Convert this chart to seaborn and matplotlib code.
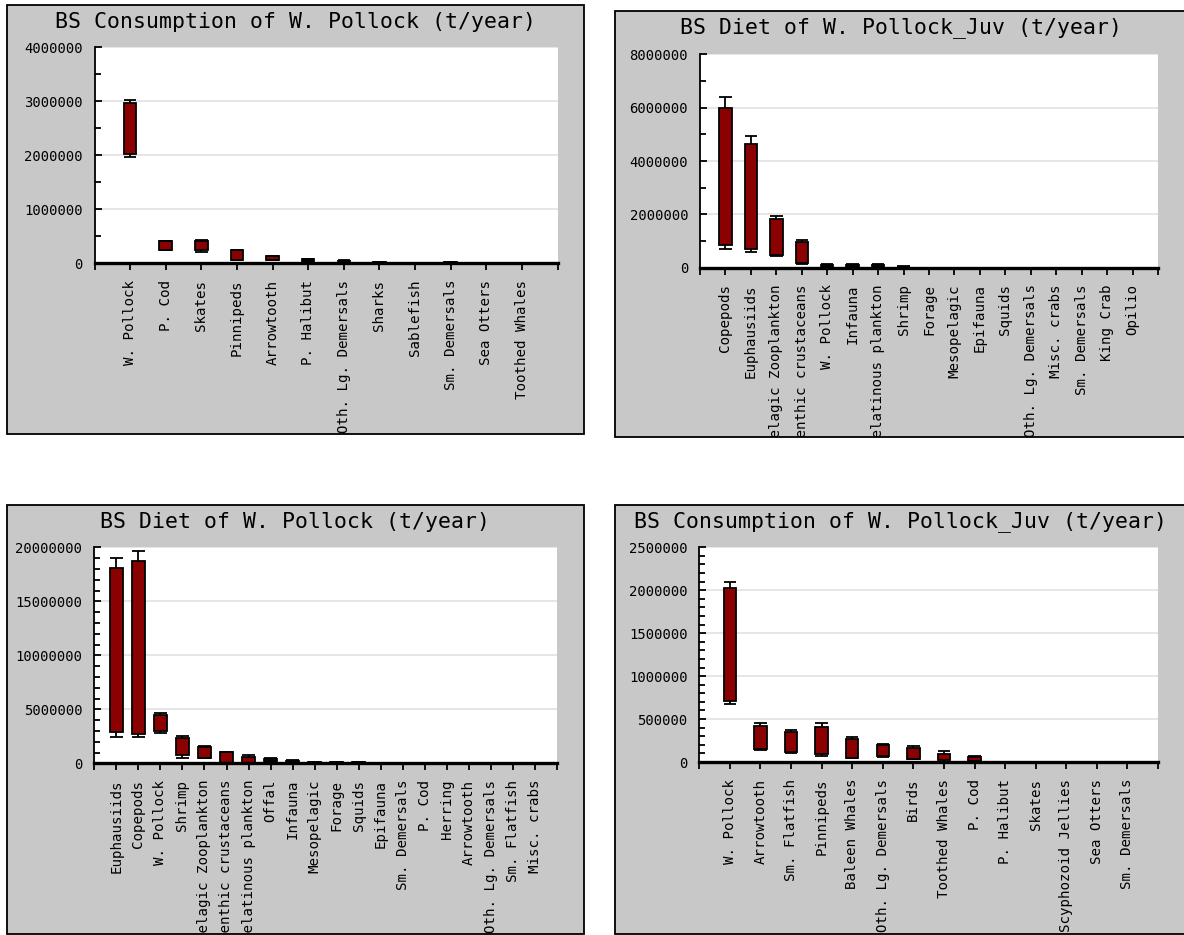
import matplotlib
matplotlib.use("Agg")
import matplotlib.pyplot as plt
import seaborn as sns
import numpy as np
from matplotlib.patches import Rectangle
from matplotlib.transforms import Bbox, TransformedBbox
from matplotlib.ticker import MultipleLocator, FixedLocator, NullFormatter

plt.rcParams['font.family'] = ['DejaVu Sans Mono']

# ---------------- BS Consumption of W. Pollock ----------------
cons_adult_title = "BS Consumption of W. Pollock (t/year)"
cons_adult_cats = ["W. Pollock", "P. Cod", "Skates", "Pinnipeds", "Arrowtooth",
                   "P. Halibut", "Oth. Lg. Demersals", "Sharks", "Sablefish",
                   "Sm. Demersals", "Sea Otters", "Toothed Whales"]
cons_adult_lo = [1970000, 250000, 200000, 70000, 60000, 35000, 5000, 3000, 0, 3000, 0, 0]
cons_adult_q1 = [2020000, 250000, 240000, 70000, 60000, 45000, 10000, 6000, 0, 6000, 0, 0]
cons_adult_q3 = [2970000, 405000, 410000, 245000, 140000, 75000, 50000, 20000, 0, 20000, 0, 0]
cons_adult_hi = [3030000, 405000, 440000, 245000, 140000, 85000, 58000, 28000, 0, 28000, 0, 0]

# ---------------- BS Diet of W. Pollock_Juv ----------------
diet_juv_title = "BS Diet of W. Pollock_Juv (t/year)"
diet_juv_cats = ["Copepods", "Euphausiids", "Pelagic Zooplankton", "Benthic crustaceans",
                 "W. Pollock", "Infauna", "Gelatinous plankton", "Shrimp", "Forage",
                 "Mesopelagic", "Epifauna", "Squids", "Oth. Lg. Demersals",
                 "Misc. crabs", "Sm. Demersals", "King Crab", "Opilio"]
diet_juv_lo = [700000, 590000, 420000, 150000, 10000, 10000, 10000, 5000, 0, 0, 0, 0, 0, 0, 0, 0, 0]
diet_juv_q1 = [850000, 700000, 470000, 180000, 30000, 25000, 25000, 10000, 0, 0, 0, 0, 0, 0, 0, 0, 0]
diet_juv_q3 = [6000000, 4650000, 1820000, 950000, 90000, 100000, 100000, 40000, 0, 0, 0, 0, 0, 0, 0, 0, 0]
diet_juv_hi = [6400000, 4920000, 1920000, 1030000, 120000, 120000, 120000, 50000, 0, 0, 0, 0, 0, 0, 0, 0, 0]

# ---------------- BS Diet of W. Pollock ----------------
diet_adult_title = "BS Diet of W. Pollock (t/year)"
diet_adult_cats = ["Euphausiids", "Copepods", "W. Pollock", "Shrimp", "Pelagic Zooplankton",
                   "Benthic crustaceans", "Gelatinous plankton", "Offal", "Infauna",
                   "Mesopelagic", "Forage", "Squids", "Epifauna", "Sm. Demersals", "P. Cod",
                   "Herring", "Arrowtooth", "Oth. Lg. Demersals", "Sm. Flatfish", "Misc. crabs"]
diet_adult_lo = [2400000, 2400000, 2850000, 500000, 450000, 0, 0, 200000, 10000, 10000, 10000, 10000,
                 0, 0, 0, 0, 0, 0, 0, 0]
diet_adult_q1 = [2900000, 2750000, 2950000, 750000, 500000, 70000, 50000, 250000, 30000, 20000, 20000, 20000,
                 0, 0, 0, 0, 0, 0, 0, 0]
diet_adult_q3 = [18100000, 18700000, 4450000, 2350000, 1550000, 1050000, 600000, 400000, 220000, 120000,
                 120000, 120000, 0, 0, 0, 0, 0, 0, 0, 0]
diet_adult_hi = [19000000, 19700000, 4700000, 2550000, 1600000, 1080000, 800000, 460000, 280000, 150000,
                 150000, 150000, 0, 0, 0, 0, 0, 0, 0, 0]

# ---------------- BS Consumption of W. Pollock_Juv ----------------
cons_juv_title = "BS Consumption of W. Pollock_Juv (t/year)"
cons_juv_cats = ["W. Pollock", "Arrowtooth", "Sm. Flatfish", "Pinnipeds", "Baleen Whales",
                 "Oth. Lg. Demersals", "Birds", "Toothed Whales", "P. Cod", "P. Halibut",
                 "Skates", "Scyphozoid Jellies", "Sea Otters", "Sm. Demersals"]
cons_juv_lo = [680000, 140000, 110000, 70000, 45000, 60000, 30000, 0, 0, 0, 0, 0, 0, 0]
cons_juv_q1 = [710000, 150000, 120000, 90000, 50000, 65000, 35000, 20000, 15000, 0, 0, 0, 0, 0]
cons_juv_q3 = [2030000, 420000, 345000, 410000, 265000, 200000, 165000, 95000, 60000, 0, 0, 0, 0, 0]
cons_juv_hi = [2100000, 450000, 370000, 450000, 290000, 210000, 190000, 125000, 75000, 0, 0, 0, 0, 0]

W, H = 1184, 935
BOX_PX = 12.5
PANEL_GREY = "#C8C8C8"
BOX_RED = "#8B0000"
GRID_GREY = "#E2E2E2"

fig = plt.figure(figsize=(W / 100, H / 100), dpi=100)
fig.patch.set_facecolor("white")


def fig_rect(x0, y0, x1, y1):
    """Pixel box (top-left origin) -> figure fraction [l, b, w, h]."""
    return [x0 / W, 1 - y1 / H, (x1 - x0) / W, (y1 - y0) / H]


def draw_panel(panel_px, axes_px, title, title_y, cats, lo, q1, q3, hi,
               ymax, major, minor):
    px0, py0, px1, py1 = panel_px
    l, b, w, h = fig_rect(*panel_px)
    panel = Rectangle((l, b), w, h, transform=fig.transFigure,
                      facecolor=PANEL_GREY, edgecolor="black", lw=1.3, zorder=-5)
    fig.add_artist(panel)
    clip = TransformedBbox(Bbox.from_bounds(l, b, w, h), fig.transFigure)

    fig.text((px0 + px1) / 2 / W, 1 - title_y / H, title, ha="center", va="center",
             fontsize=15.5, color="black")

    ax = fig.add_axes(fig_rect(*axes_px))
    ax.set_facecolor("white")

    n = len(cats)
    spacing_px = (axes_px[2] - axes_px[0]) / (n + 1)
    frac = BOX_PX / spacing_px

    q1a = np.asarray(q1, float)
    q3a = np.asarray(q3, float)
    lo_a = np.asarray(lo, float)
    hi_a = np.asarray(hi, float)

    # boxes: floating bars from the lower to the upper quartile
    sns.barplot(x=cats, y=q3a - q1a, bottom=q1a, order=cats, errorbar=None,
                width=frac, color=BOX_RED, edgecolor="black", linewidth=1.3,
                saturation=1, ax=ax, zorder=2)

    # whiskers with caps
    xs = np.arange(n)
    half = frac / 2
    ax.vlines(xs, q3a, hi_a, color="black", lw=1.3, zorder=3)
    ax.vlines(xs, lo_a, q1a, color="black", lw=1.3, zorder=3)
    ax.hlines(hi_a, xs - half, xs + half, color="black", lw=1.3, zorder=3)
    ax.hlines(lo_a, xs - half, xs + half, color="black", lw=1.3, zorder=3)

    ax.set_xlim(-1, n)
    ax.set_ylim(0, ymax)
    ax.set_xlabel("")
    ax.set_ylabel("")

    # y axis
    ax.yaxis.set_major_locator(MultipleLocator(major))
    ax.yaxis.set_minor_locator(MultipleLocator(minor))
    ax.yaxis.set_major_formatter(plt.FuncFormatter(lambda v, p: f"{int(round(v))}"))
    ax.tick_params(axis="y", which="major", direction="in", length=5, width=1.3,
                   labelsize=10, pad=8.5, colors="black")
    ax.tick_params(axis="y", which="minor", direction="in", length=4, width=1.3)
    ax.yaxis.grid(True, which="major", color=GRID_GREY, lw=1.2)
    ax.xaxis.grid(False)
    ax.set_axisbelow(True)

    # x axis: category ticks plus end ticks
    ax.xaxis.set_major_locator(FixedLocator(xs))
    ax.set_xticklabels(cats, rotation=90, fontsize=10.2, va="top", ha="center")
    ax.xaxis.set_minor_locator(FixedLocator([-1, n]))
    ax.xaxis.set_minor_formatter(NullFormatter())
    ax.tick_params(axis="x", which="both", direction="out", length=5, width=1.3,
                   pad=7, colors="black")

    for side in ("top", "right"):
        ax.spines[side].set_visible(False)
    ax.spines["left"].set_linewidth(1.3)
    ax.spines["bottom"].set_linewidth(2.4)
    ax.spines["bottom"].set_zorder(4)
    ax.spines["left"].set_zorder(4)

    # long category names run past the panel frame and are cut there
    for lab in ax.get_xticklabels():
        lab.set_clip_box(clip)
        lab.set_clip_on(True)
    return ax


draw_panel((7, 4.7, 584, 434), (94.5, 47.3, 557.5, 263.3), cons_adult_title, 21.5,
           cons_adult_cats, cons_adult_lo, cons_adult_q1, cons_adult_q3, cons_adult_hi,
           4000000, 1000000, 500000)

draw_panel((615, 10.5, 1187, 437), (700, 54.3, 1158, 267.7), diet_juv_title, 28,
           diet_juv_cats, diet_juv_lo, diet_juv_q1, diet_juv_q3, diet_juv_hi,
           8000000, 2000000, 1000000)

draw_panel((7, 504.7, 584, 934), (94.3, 547.3, 557, 763.3), diet_adult_title, 521.5,
           diet_adult_cats, diet_adult_lo, diet_adult_q1, diet_adult_q3, diet_adult_hi,
           20000000, 5000000, 1000000)

draw_panel((615, 504.7, 1187, 934), (699.3, 547.3, 1158, 762), cons_juv_title, 521.5,
           cons_juv_cats, cons_juv_lo, cons_juv_q1, cons_juv_q3, cons_juv_hi,
           2500000, 500000, 100000)

fig.savefig("out.png", dpi=100)
